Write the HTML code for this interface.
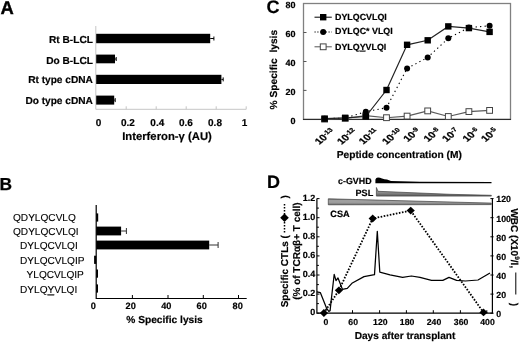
<!DOCTYPE html>
<html lang="en">
<head>
<meta charset="utf-8">
<title>Figure</title>
<style>
html,body{margin:0;padding:0;background:#fff;}
body{width:520px;height:342px;overflow:hidden;}
svg{display:block;filter:blur(0.35px);}
svg text{font-family:"Liberation Sans", Arial, sans-serif;fill:#000;text-rendering:geometricPrecision;stroke:#000;stroke-width:0.18px;}
</style>
</head>
<body>
<svg width="520" height="342" viewBox="0 0 520 342">
<defs>
<linearGradient id="gP" x1="0" y1="0" x2="0" y2="1"><stop offset="0" stop-color="#9a9a9a"/><stop offset="0.6" stop-color="#8a8a8a"/><stop offset="1" stop-color="#5a5a5a"/></linearGradient>
<linearGradient id="gC" x1="0" y1="0" x2="0" y2="1"><stop offset="0" stop-color="#6a6a6a"/><stop offset="0.3" stop-color="#a2a2a2"/><stop offset="0.7" stop-color="#9a9a9a"/><stop offset="1" stop-color="#5a5a5a"/></linearGradient>
</defs>
<rect x="0" y="0" width="520" height="342" fill="#fff"/>
<g id="panelA">
<text x="0.6" y="14" font-size="18.4" font-weight="bold" text-anchor="start" style="stroke-width:0.35px">A</text>
<path d="M95.8 26 V109.3 H246.2" fill="none" stroke="#c6c6c6" stroke-width="1"/>
<path d="M126.2 106.3 V109.3" stroke="#c6c6c6" stroke-width="1"/>
<path d="M156.2 106.3 V109.3" stroke="#c6c6c6" stroke-width="1"/>
<path d="M186.2 106.3 V109.3" stroke="#c6c6c6" stroke-width="1"/>
<path d="M216.2 106.3 V109.3" stroke="#c6c6c6" stroke-width="1"/>
<path d="M246.2 106.3 V109.3" stroke="#c6c6c6" stroke-width="1"/>
<rect x="96.2" y="33.8" width="114.0" height="9.4" fill="#000"/>
<path d="M210.2 38.5 H213.9 M213.9 36.5 V40.5" stroke="#000" stroke-width="1" fill="none"/>
<text x="92.9" y="42.6" font-size="10.15" font-weight="bold" text-anchor="end" >Rt B-LCL</text>
<rect x="96.2" y="54.6" width="18.8" height="8.7" fill="#000"/>
<path d="M115.0 59.0 H116.2 M116.2 57.0 V61.0" stroke="#000" stroke-width="1" fill="none"/>
<text x="92.9" y="63.8" font-size="10.15" font-weight="bold" text-anchor="end" >Do B-LCL</text>
<rect x="96.2" y="74.8" width="125.2" height="9.2" fill="#000"/>
<path d="M221.4 79.4 H223.2 M223.2 77.4 V81.4" stroke="#000" stroke-width="1" fill="none"/>
<text x="92.9" y="83.4" font-size="10.15" font-weight="bold" text-anchor="end" >Rt type cDNA</text>
<rect x="96.2" y="95.6" width="18.0" height="9.0" fill="#000"/>
<path d="M114.2 100.1 H115.2 M115.2 98.1 V102.1" stroke="#000" stroke-width="1" fill="none"/>
<text x="92.9" y="103.8" font-size="10.15" font-weight="bold" text-anchor="end" >Do type cDNA</text>
<text x="98.6" y="125.8" font-size="10" font-weight="bold" text-anchor="middle" >0</text>
<text x="127.9" y="125.8" font-size="10" font-weight="bold" text-anchor="middle" >0.2</text>
<text x="157.3" y="125.8" font-size="10" font-weight="bold" text-anchor="middle" >0.4</text>
<text x="185.9" y="125.8" font-size="10" font-weight="bold" text-anchor="middle" >0.6</text>
<text x="215" y="125.8" font-size="10" font-weight="bold" text-anchor="middle" >0.8</text>
<text x="244.6" y="125.8" font-size="10" font-weight="bold" text-anchor="middle" >1</text>
<text x="167" y="140" font-size="11.3" font-weight="bold" text-anchor="middle" >Interferon-γ (AU)</text>
</g>
<g id="panelB">
<text x="-0.5" y="190.2" font-size="17.4" font-weight="bold" text-anchor="start" style="stroke-width:0.25px">B</text>
<path d="M96.2 205 V298.5 H246.7" fill="none" stroke="#000" stroke-width="1.2"/>
<path d="M132.4 295 V298.5" stroke="#000" stroke-width="1"/>
<path d="M168 295 V298.5" stroke="#000" stroke-width="1"/>
<path d="M203.3 295 V298.5" stroke="#000" stroke-width="1"/>
<path d="M238.5 295 V298.5" stroke="#000" stroke-width="1"/>
<rect x="96.2" y="213.4" width="2.0" height="8.2" fill="#000"/>
<text x="13" y="221.2" font-size="10.1" font-weight="normal" text-anchor="start" style="stroke-width:0.12px">QDYLQCVLQ</text>
<rect x="96.2" y="226.6" width="24.9" height="8.8" fill="#000"/>
<path d="M121.1 231 H126.4 M126.4 228 V234" stroke="#333" stroke-width="1" fill="none"/>
<text x="13" y="235" font-size="10.1" font-weight="normal" text-anchor="start" style="stroke-width:0.12px">QDYLQCVLQI</text>
<rect x="96.2" y="240.6" width="113.0" height="8.8" fill="#000"/>
<path d="M209.2 245 H218.1 M218.1 242 V248" stroke="#333" stroke-width="1" fill="none"/>
<text x="20" y="249" font-size="10.1" font-weight="normal" text-anchor="start" style="stroke-width:0.12px">DYLQCVLQI</text>
<rect x="94.1" y="255.7" width="2.1" height="8.2" fill="#000"/>
<text x="20" y="263.8" font-size="10.1" font-weight="normal" text-anchor="start" style="stroke-width:0.12px">DYLQCVLQIP</text>
<rect x="96.2" y="269.5" width="1.8" height="8.2" fill="#000"/>
<text x="26.6" y="278.2" font-size="10.1" font-weight="normal" text-anchor="start" style="stroke-width:0.12px">YLQCVLQIP</text>
<rect x="96.2" y="284.4" width="1.8" height="8.2" fill="#000"/>
<text x="20" y="293.4" font-size="10.1" font-weight="normal" text-anchor="start" style="stroke-width:0.12px">DYLQ<tspan text-decoration="underline">Y</tspan>VLQI</text>
<text x="93.4" y="308.6" font-size="9.2" font-weight="bold" text-anchor="middle" >0</text>
<text x="130.7" y="308.6" font-size="9.2" font-weight="bold" text-anchor="middle" >20</text>
<text x="166.3" y="308.6" font-size="9.2" font-weight="bold" text-anchor="middle" >40</text>
<text x="201.7" y="308.6" font-size="9.2" font-weight="bold" text-anchor="middle" >60</text>
<text x="237.7" y="308.6" font-size="9.2" font-weight="bold" text-anchor="middle" >80</text>
<text x="164.5" y="323" font-size="10.2" font-weight="bold" text-anchor="middle" >% Specific lysis</text>
</g>
<g id="panelC">
<text x="266.6" y="13.2" font-size="18" font-weight="bold" text-anchor="start" >C</text>
<rect x="303.5" y="3.5" width="207.0" height="115.9" fill="none" stroke="#808080" stroke-width="1.3"/>
<path d="M303.0 119.4 H511.0" stroke="#222" stroke-width="1"/>
<text x="295.4" y="123.7" font-size="9" font-weight="bold" text-anchor="end" >0</text>
<path d="M303.5 90.4 h3" stroke="#444" stroke-width="0.9"/>
<text x="295.4" y="94.7" font-size="9" font-weight="bold" text-anchor="end" >20</text>
<path d="M303.5 61.5 h3" stroke="#444" stroke-width="0.9"/>
<text x="295.4" y="65.8" font-size="9" font-weight="bold" text-anchor="end" >40</text>
<path d="M303.5 32.5 h3" stroke="#444" stroke-width="0.9"/>
<text x="295.4" y="36.8" font-size="9" font-weight="bold" text-anchor="end" >60</text>
<text x="295.4" y="7.8" font-size="9" font-weight="bold" text-anchor="end" >80</text>
<polyline points="324.6,119.1 345.2,118.5 365.8,115.6 386.5,117.7 407.1,116.1 427.7,110.9 448.3,116.5 468.9,111.6 489.6,110.4" fill="none" stroke="#5a5a5a" stroke-width="1.1"/>
<polyline points="324.6,118.7 345.2,118.0 365.8,111.7 386.5,107.7 407.1,68.4 427.7,57.4 448.3,38.3 468.9,27.5 489.6,25.8" fill="none" stroke="#000" stroke-width="1.1" stroke-dasharray="1.3 3.2"/>
<polyline points="324.6,118.7 345.2,117.8 365.8,116.5 386.5,90.0 407.1,44.8 427.7,40.3 448.3,26.4 468.9,28.1 489.6,31.9" fill="none" stroke="#222" stroke-width="1.2"/>
<rect x="321.7" y="116.2" width="5.8" height="5.8" fill="#fff" stroke="#444" stroke-width="1"/>
<rect x="342.3" y="115.6" width="5.8" height="5.8" fill="#fff" stroke="#444" stroke-width="1"/>
<rect x="362.9" y="112.7" width="5.8" height="5.8" fill="#fff" stroke="#444" stroke-width="1"/>
<rect x="383.6" y="114.8" width="5.8" height="5.8" fill="#fff" stroke="#444" stroke-width="1"/>
<rect x="404.2" y="113.2" width="5.8" height="5.8" fill="#fff" stroke="#444" stroke-width="1"/>
<rect x="424.8" y="108.0" width="5.8" height="5.8" fill="#fff" stroke="#444" stroke-width="1"/>
<rect x="445.4" y="113.6" width="5.8" height="5.8" fill="#fff" stroke="#444" stroke-width="1"/>
<rect x="466.0" y="108.7" width="5.8" height="5.8" fill="#fff" stroke="#444" stroke-width="1"/>
<rect x="486.7" y="107.5" width="5.8" height="5.8" fill="#fff" stroke="#444" stroke-width="1"/>
<circle cx="324.6" cy="118.7" r="3" fill="#000"/>
<circle cx="345.2" cy="118.0" r="3" fill="#000"/>
<circle cx="365.8" cy="111.7" r="3" fill="#000"/>
<circle cx="386.5" cy="107.7" r="3" fill="#000"/>
<circle cx="407.1" cy="68.4" r="3" fill="#000"/>
<circle cx="427.7" cy="57.4" r="3" fill="#000"/>
<circle cx="448.3" cy="38.3" r="3" fill="#000"/>
<circle cx="468.9" cy="27.5" r="3" fill="#000"/>
<circle cx="489.6" cy="25.8" r="3" fill="#000"/>
<rect x="321.4" y="115.5" width="6.4" height="6.4" fill="#000"/>
<rect x="342.0" y="114.6" width="6.4" height="6.4" fill="#000"/>
<rect x="362.6" y="113.3" width="6.4" height="6.4" fill="#000"/>
<rect x="383.3" y="86.8" width="6.4" height="6.4" fill="#000"/>
<rect x="403.9" y="41.6" width="6.4" height="6.4" fill="#000"/>
<rect x="424.5" y="37.1" width="6.4" height="6.4" fill="#000"/>
<rect x="445.1" y="23.2" width="6.4" height="6.4" fill="#000"/>
<rect x="465.7" y="24.9" width="6.4" height="6.4" fill="#000"/>
<rect x="486.4" y="28.7" width="6.4" height="6.4" fill="#000"/>
<path d="M314.5 17.2 H331.8" stroke="#000" stroke-width="1"/>
<rect x="320.0" y="14.0" width="6.4" height="6.4" fill="#000"/>
<text x="335.0" y="20.099999999999998" font-size="8.9" font-weight="bold" text-anchor="start" xml:space="preserve">DYLQCVLQI</text>
<path d="M314.5 32 H331.8" stroke="#000" stroke-width="1.1" stroke-dasharray="1.2 1.6"/>
<circle cx="323.2" cy="32" r="3" fill="#000"/>
<text x="335.0" y="34.1" font-size="8.9" font-weight="bold" text-anchor="start" xml:space="preserve">DYLQC* VLQI</text>
<path d="M314.5 46.8 H331.8" stroke="#555" stroke-width="1"/>
<rect x="320.3" y="43.9" width="5.8" height="5.8" fill="#fff" stroke="#444" stroke-width="1"/>
<text x="335.0" y="49.699999999999996" font-size="8.9" font-weight="bold" text-anchor="start" xml:space="preserve">DYLQ<tspan text-decoration="underline">Y</tspan>VLQI</text>
<text transform="translate(277.3 109.4) rotate(-90)" font-size="10.2" font-weight="bold" text-anchor="start">% Specific <tspan dx="3">lysis</tspan></text>
<text transform="translate(335.5 132.0) scale(1 0.8) rotate(-45)" font-size="11.0" font-weight="bold" text-anchor="end" style="stroke-width:0.3px">10<tspan font-size="7.4" dy="-3.4">-13</tspan></text>
<text transform="translate(357.6 132.0) scale(1 0.8) rotate(-45)" font-size="11.0" font-weight="bold" text-anchor="end" style="stroke-width:0.3px">10<tspan font-size="7.4" dy="-3.4">-12</tspan></text>
<text transform="translate(379.1 132.0) scale(1 0.8) rotate(-45)" font-size="11.0" font-weight="bold" text-anchor="end" style="stroke-width:0.3px">10<tspan font-size="7.4" dy="-3.4">-11</tspan></text>
<text transform="translate(402.7 132.0) scale(1 0.8) rotate(-45)" font-size="11.0" font-weight="bold" text-anchor="end" style="stroke-width:0.3px">10<tspan font-size="7.4" dy="-3.4">-10</tspan></text>
<text transform="translate(421.0 131.6) scale(1 0.8) rotate(-45)" font-size="11.0" font-weight="bold" text-anchor="end" style="stroke-width:0.3px">10<tspan font-size="7.4" dy="-3.4">-9</tspan></text>
<text transform="translate(441.2 131.6) scale(1 0.8) rotate(-45)" font-size="11.0" font-weight="bold" text-anchor="end" style="stroke-width:0.3px">10<tspan font-size="7.4" dy="-3.4">-8</tspan></text>
<text transform="translate(459.9 131.6) scale(1 0.8) rotate(-45)" font-size="11.0" font-weight="bold" text-anchor="end" style="stroke-width:0.3px">10<tspan font-size="7.4" dy="-3.4">-7</tspan></text>
<text transform="translate(480.2 131.6) scale(1 0.8) rotate(-45)" font-size="11.0" font-weight="bold" text-anchor="end" style="stroke-width:0.3px">10<tspan font-size="7.4" dy="-3.4">-6</tspan></text>
<text transform="translate(498.8 131.6) scale(1 0.8) rotate(-45)" font-size="11.0" font-weight="bold" text-anchor="end" style="stroke-width:0.3px">10<tspan font-size="7.4" dy="-3.4">-5</tspan></text>
<text x="399.3" y="157.8" font-size="10.2" font-weight="bold" text-anchor="middle" >Peptide concentration (M)</text>
</g>
<g id="panelD">
<text x="267.0" y="187.9" font-size="18" font-weight="bold" text-anchor="start" >D</text>
<path d="M316.9 198.6 V313.2 H492.4 V198.6" fill="none" stroke="#000" stroke-width="1.2"/>
<path d="M316.9 313.2 h2.6" stroke="#000" stroke-width="1"/>
<path d="M316.9 303.6 h2" stroke="#000" stroke-width="1"/>
<path d="M316.9 294.1 h2.6" stroke="#000" stroke-width="1"/>
<path d="M316.9 284.6 h2" stroke="#000" stroke-width="1"/>
<path d="M316.9 275.0 h2.6" stroke="#000" stroke-width="1"/>
<path d="M316.9 265.4 h2" stroke="#000" stroke-width="1"/>
<path d="M316.9 255.9 h2.6" stroke="#000" stroke-width="1"/>
<path d="M316.9 246.3 h2" stroke="#000" stroke-width="1"/>
<path d="M316.9 236.8 h2.6" stroke="#000" stroke-width="1"/>
<path d="M316.9 227.2 h2" stroke="#000" stroke-width="1"/>
<path d="M316.9 217.7 h2.6" stroke="#000" stroke-width="1"/>
<path d="M316.9 208.1 h2" stroke="#000" stroke-width="1"/>
<path d="M316.9 198.6 h2.6" stroke="#000" stroke-width="1"/>
<path d="M493.59999999999997 313.2 h-3.2" stroke="#000" stroke-width="1"/>
<text x="315.2" y="314.7" font-size="9" font-weight="bold" text-anchor="end" >0</text>
<text x="496.3" y="316.5" font-size="8.8" font-weight="bold" text-anchor="start" >0</text>
<path d="M493.59999999999997 294.1 h-3.2" stroke="#000" stroke-width="1"/>
<text x="315.2" y="296.1" font-size="9" font-weight="bold" text-anchor="end" >0.2</text>
<text x="496.3" y="297.9" font-size="8.8" font-weight="bold" text-anchor="start" >20</text>
<path d="M493.59999999999997 275.0 h-3.2" stroke="#000" stroke-width="1"/>
<text x="315.2" y="277.0" font-size="9" font-weight="bold" text-anchor="end" >0.4</text>
<text x="496.3" y="278.8" font-size="8.8" font-weight="bold" text-anchor="start" >40</text>
<path d="M493.59999999999997 255.9 h-3.2" stroke="#000" stroke-width="1"/>
<text x="315.2" y="257.9" font-size="9" font-weight="bold" text-anchor="end" >0.6</text>
<text x="496.3" y="259.7" font-size="8.8" font-weight="bold" text-anchor="start" >60</text>
<path d="M493.59999999999997 236.8 h-3.2" stroke="#000" stroke-width="1"/>
<text x="315.2" y="238.8" font-size="9" font-weight="bold" text-anchor="end" >0.8</text>
<text x="496.3" y="240.6" font-size="8.8" font-weight="bold" text-anchor="start" >80</text>
<path d="M493.59999999999997 217.7 h-3.2" stroke="#000" stroke-width="1"/>
<text x="315.2" y="219.7" font-size="9" font-weight="bold" text-anchor="end" >1.0</text>
<text x="496.3" y="221.5" font-size="8.8" font-weight="bold" text-anchor="start" >100</text>
<path d="M493.59999999999997 198.6 h-3.2" stroke="#000" stroke-width="1"/>
<text x="315.2" y="200.6" font-size="9" font-weight="bold" text-anchor="end" >1.2</text>
<text x="496.3" y="202.4" font-size="8.8" font-weight="bold" text-anchor="start" >120</text>
<path d="M325.3 313.2 v-3" stroke="#000" stroke-width="1"/>
<text x="326.0" y="324.8" font-size="8.7" font-weight="bold" text-anchor="middle" >0</text>
<path d="M352.5 313.2 v-3" stroke="#000" stroke-width="1"/>
<text x="353.2" y="324.8" font-size="8.7" font-weight="bold" text-anchor="middle" >60</text>
<path d="M379.6 313.2 v-3" stroke="#000" stroke-width="1"/>
<text x="380.3" y="324.8" font-size="8.7" font-weight="bold" text-anchor="middle" >120</text>
<path d="M406.4 313.2 v-3" stroke="#000" stroke-width="1"/>
<text x="407.09999999999997" y="324.8" font-size="8.7" font-weight="bold" text-anchor="middle" >180</text>
<path d="M433.3 313.2 v-3" stroke="#000" stroke-width="1"/>
<text x="434.0" y="324.8" font-size="8.7" font-weight="bold" text-anchor="middle" >240</text>
<path d="M460.4 313.2 v-3" stroke="#000" stroke-width="1"/>
<text x="461.09999999999997" y="324.8" font-size="8.7" font-weight="bold" text-anchor="middle" >360</text>
<path d="M486.8 313.2 v-3" stroke="#000" stroke-width="1"/>
<text x="487.5" y="324.8" font-size="8.7" font-weight="bold" text-anchor="middle" >400</text>
<text x="405" y="339.1" font-size="10.15" font-weight="bold" text-anchor="middle" >Days after transplant</text>
<polyline points="316.9,291.9 320.4,292.7 326.5,308.1 328.8,311.4 330.1,310.6 331.2,300.4 334.2,274.3 336.0,280.6 338.0,277.9 342.4,289.3 347.3,288.4 351.9,283.3 364,276.6 374.5,274.6 377.3,231.3 379.8,272.2 390,274.8 402.6,277.4 411.4,276 420,277.4 431.5,280.4 442.8,280.4 449,277.4 456.6,280.4 465.4,281 478,280 490,273" fill="none" stroke="#000" stroke-width="1.25" stroke-linejoin="round"/>
<polyline points="323.9,313.0 338.9,290.3 372.7,218.5 410.7,210.6 483.5,312.4" fill="none" stroke="#000" stroke-width="1.8" stroke-dasharray="1.6 1.5"/>
<path d="M319.79999999999995 313.0 L323.9 309.1 L328.0 313.0 L323.9 316.9 Z" fill="#000"/>
<path d="M334.79999999999995 290.3 L338.9 286.40000000000003 L343.0 290.3 L338.9 294.2 Z" fill="#000"/>
<path d="M368.59999999999997 218.5 L372.7 214.6 L376.8 218.5 L372.7 222.4 Z" fill="#000"/>
<path d="M406.59999999999997 210.6 L410.7 206.7 L414.8 210.6 L410.7 214.5 Z" fill="#000"/>
<path d="M479.4 312.4 L483.5 308.5 L487.6 312.4 L483.5 316.29999999999995 Z" fill="#000"/>
<text x="371.6" y="184.0" font-size="8.9" font-weight="bold" text-anchor="end" >c-GVHD</text>
<path d="M375.4 183.3 V179.5 Q376 177.4 378 177.4 Q380 177.4 382 178.5 Q384.5 179.3 387 179.6 Q389 180.3 391 181 L420 181.7 L491.5 182 V183.2 Z" fill="#000"/>
<text x="373.2" y="195.6" font-size="9.1" font-weight="bold" text-anchor="end" >PSL</text>
<path d="M376.4 196.1 V187.5 L378 191.3 L450 194.3 L491.3 195.3 V196.1 Z" fill="url(#gP)" stroke="#404040" stroke-width="0.7"/>
<path d="M328.3 198.8 L491.3 203.1 V204.6 L328.3 204.8 Z" fill="url(#gC)" stroke="#404040" stroke-width="0.7"/>
<text x="330.3" y="217.2" font-size="9.2" font-weight="bold" text-anchor="start" >CSA</text>
<text transform="translate(288.2 307.3) rotate(-90)" font-size="10" font-weight="bold" text-anchor="start">Specific CTLs (</text>
<path d="M284.5 232.6 V203.6" stroke="#000" stroke-width="1.5" stroke-dasharray="1.5 1.5"/>
<path d="M280.2 217.7 l4.3 -4.2 l4.3 4.2 l-4.3 4.2 Z" fill="#000"/>
<text transform="translate(288.2 198.6) rotate(-90)" font-size="10" font-weight="bold" text-anchor="start">)</text>
<text transform="translate(300.1 251.1) rotate(-90)" font-size="10" font-weight="bold" text-anchor="middle">(% of TCRαβ+ T cell)</text>
<text transform="translate(511.2 208.4) rotate(90)" font-size="10" font-weight="bold" text-anchor="start">WBC (X10<tspan font-size="6.5" dy="-3.5">9</tspan><tspan dy="3.5">/l,</tspan></text>
<path d="M515.8 272.5 V294.5" stroke="#000" stroke-width="1"/>
<text transform="translate(511.2 302.8) rotate(90)" font-size="10" font-weight="bold" text-anchor="start">)</text>
</g>
</svg>
</body>
</html>
